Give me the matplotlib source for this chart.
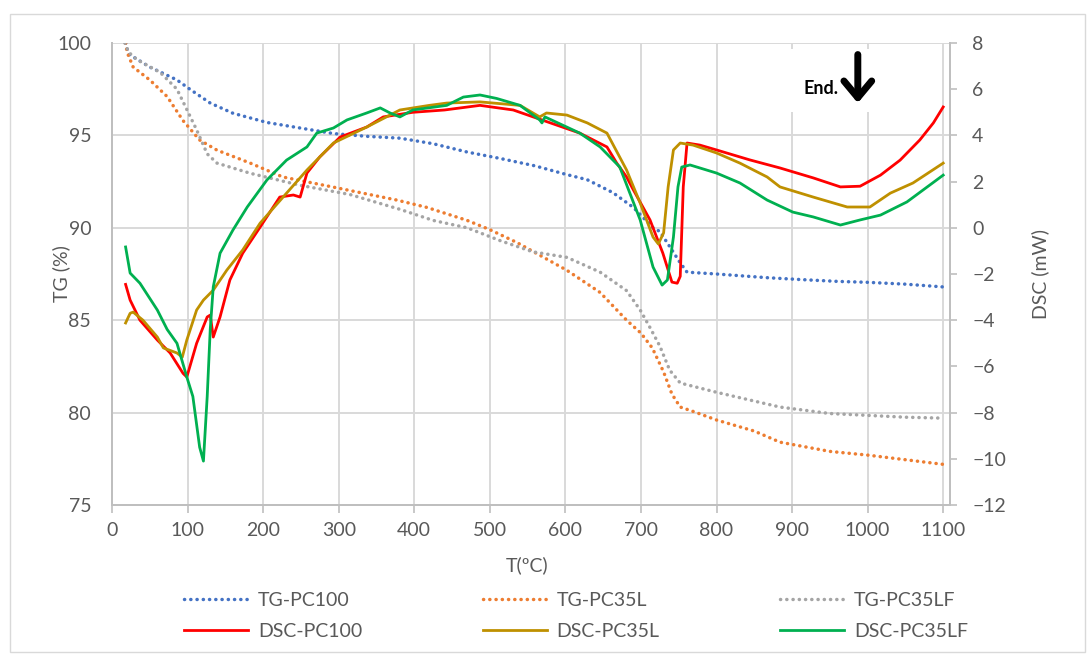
import matplotlib
matplotlib.use("Agg")
import matplotlib.pyplot as plt
from matplotlib.patches import Rectangle

plt.rcParams['font.family'] = ['Lato', 'DejaVu Sans']

# ---------------- data ----------------
t_tg100 = [18, 22, 30, 50, 86, 103, 130, 160, 205, 249, 293, 337, 381, 425, 470, 514, 560, 600, 629, 663,
           690, 716, 725, 741, 752, 761, 800, 867, 911, 960, 1000, 1050, 1100]
tg_pc100 = [100, 99.4, 99.2, 98.7, 98.0, 97.5, 96.75, 96.2, 95.7, 95.4, 95.1, 94.95, 94.85, 94.55, 94.1, 93.75,
            93.35, 92.9, 92.6, 91.9, 91.1, 90.0, 89.8, 88.8, 88.1, 87.6, 87.5, 87.3, 87.2, 87.1, 87.05, 86.95, 86.8]

t_tg35l = [18, 20, 28, 50, 73, 94, 116, 139, 183, 226, 293, 377, 417, 470, 500, 536, 602, 646, 681, 700,
           715, 730, 741, 752, 770, 800, 850, 884, 950, 1000, 1050, 1100]
tg_pc35l = [100, 99.5, 98.7, 98.0, 97.1, 95.8, 94.75, 94.2, 93.5, 92.75, 92.2, 91.5, 91.1, 90.4, 89.9, 89.2,
            87.7, 86.5, 85.0, 84.3, 83.5, 82.2, 81.0, 80.3, 80.05, 79.6, 79.0, 78.4, 77.9, 77.7, 77.45, 77.2]

t_tg35lf = [17, 22, 33, 64, 86, 99, 112, 126, 139, 183, 249, 315, 381, 425, 470, 514, 557, 602, 646, 681,
            699, 712, 725, 738, 752, 800, 884, 950, 1000, 1050, 1100]
tg_pc35lf = [100, 99.5, 99.1, 98.4, 97.5, 96.4, 95.3, 94.0, 93.5, 92.95, 92.3, 91.8, 91.0, 90.4, 90.0, 89.3,
             88.7, 88.4, 87.6, 86.6, 85.55, 84.6, 83.6, 82.3, 81.6, 81.1, 80.3, 79.95, 79.85, 79.75, 79.7]

t_dsc100 = [18, 24, 37, 60, 77, 94, 99, 112, 126, 130, 134, 143, 156, 173, 196, 222, 240, 249, 258, 275,
            302, 337, 359, 398, 440, 487, 531, 575, 619, 655, 668, 681, 690, 712, 729, 741, 748, 752, 756, 761,
            778, 800, 844, 884, 928, 964, 990, 1017, 1043, 1069, 1087, 1100]
dsc_pc100 = [-2.45, -3.13, -4.0, -4.86, -5.42, -6.3, -6.46, -5.0, -3.86, -3.78, -4.73, -3.86, -2.26, -1.1, 0.03,
             1.33, 1.42, 1.33, 2.37, 3.07, 3.93, 4.36, 4.8, 5.0, 5.1, 5.3, 5.1, 4.6, 4.1, 3.5, 2.8, 2.2, 1.64,
             0.34, -1.1, -2.35, -2.4, -2.1, 1.77, 3.67, 3.58, 3.37, 2.94, 2.59, 2.16, 1.77, 1.8, 2.28, 2.93,
             3.8, 4.54, 5.23]

t_dsc35l = [18, 24, 28, 41, 60, 68, 86, 93, 99, 112, 121, 134, 152, 173, 196, 231, 258, 293, 337, 381, 420,
            443, 487, 540, 566, 575, 602, 629, 655, 681, 699, 716, 723, 730, 736, 743, 752, 769, 800, 831, 867,
            884, 928, 973, 1003, 1030, 1060, 1100]
dsc_pc35l = [-4.12, -3.7, -3.65, -4.0, -4.73, -5.2, -5.42, -5.6, -4.86, -3.56, -3.13, -2.7, -1.83, -0.96, 0.2,
             1.5, 2.5, 3.67, 4.36, 5.1, 5.3, 5.4, 5.45, 5.3, 4.8, 4.97, 4.88, 4.54, 4.1, 2.5, 1.07, -0.4, -0.7,
             -0.22, 1.77, 3.37, 3.67, 3.58, 3.24, 2.8, 2.2, 1.77, 1.33, 0.9, 0.9, 1.5, 1.94, 2.8]

t_dsc35lf = [18, 24, 37, 60, 73, 86, 99, 107, 116, 121, 126, 130, 134, 143, 160, 179, 205, 231, 258, 271,
             293, 311, 337, 355, 368, 381, 398, 443, 465, 487, 509, 540, 566, 569, 573, 619, 646, 672, 699, 716,
             728, 735, 743, 749, 754, 765, 800, 831, 867, 901, 928, 964, 990, 1017, 1052, 1100]
dsc_pc35lf = [-0.83, -1.96, -2.4, -3.56, -4.4, -5.0, -6.46, -7.3, -9.5, -10.1, -7.3, -4.4, -2.56, -1.1, -0.1,
              0.9, 2.07, 2.93, 3.5, 4.1, 4.32, 4.67, 4.97, 5.19, 4.97, 4.8, 5.1, 5.3, 5.66, 5.75, 5.6, 5.3, 4.67,
              4.54, 4.8, 4.1, 3.5, 2.63, 0.34, -1.7, -2.48, -2.26, -0.4, 1.77, 2.63, 2.72, 2.37, 1.94, 1.2, 0.68,
              0.47, 0.12, 0.34, 0.55, 1.12, 2.28]

x_ticks = [0, 100, 200, 300, 400, 500, 600, 700, 800, 900, 1000, 1100]
tg_ticks = [75, 80, 85, 90, 95, 100]
dsc_ticks = [-12, -10, -8, -6, -4, -2, 0, 2, 4, 6, 8]

# ---------------- style ----------------
TXT = '#595959'
GRID = '#D9D9D9'
SPINE = '#BFBFBF'
FS = 14

W, H = 1088, 659
fig = plt.figure(figsize=(W / 100, H / 100), dpi=100)
ax = fig.add_axes([112 / W, 1 - 505 / H, (950 - 112) / W, (505 - 43) / H])
ax2 = ax.twinx()

dot = dict(linestyle=(0, (0.05, 1.75)), dash_capstyle='round', lw=2.5)
l1, = ax.plot(t_tg100, tg_pc100, color='#4472C4', label='TG-PC100', **dot)
l2, = ax.plot(t_tg35l, tg_pc35l, color='#ED7D31', label='TG-PC35L', **dot)
l3, = ax.plot(t_tg35lf, tg_pc35lf, color='#A5A5A5', label='TG-PC35LF', **dot)

l4, = ax2.plot(t_dsc100, dsc_pc100, color='#FF0000', lw=2.0, label='DSC-PC100')
l5, = ax2.plot(t_dsc35l, dsc_pc35l, color='#BF9000', lw=2.0, label='DSC-PC35L')
l6, = ax2.plot(t_dsc35lf, dsc_pc35lf, color='#00B050', lw=2.0, label='DSC-PC35LF')

ax.set_xlim(0, 1109)
ax.set_ylim(75, 100)
ax2.set_ylim(-12, 8)
ax.set_xticks(x_ticks)
ax.set_yticks(tg_ticks)
ax2.set_yticks(dsc_ticks)

ax.grid(True, color=GRID, lw=1.4)
ax.set_axisbelow(True)

for a in (ax, ax2):
    a.spines['top'].set_visible(False)
    for s in ('left', 'right', 'bottom'):
        a.spines[s].set_color(SPINE)
        a.spines[s].set_linewidth(1.4)

ax.tick_params(axis='x', direction='out', length=6, width=1.2, color=SPINE, labelsize=FS, labelcolor=TXT, pad=6)
ax.tick_params(axis='y', length=0, labelsize=FS, labelcolor=TXT, pad=15)
ax2.tick_params(axis='y', direction='out', length=5, width=1.2, color=SPINE, labelsize=FS, labelcolor=TXT, pad=11)

ax.set_xlabel('T(ºC)', fontsize=FS, color=TXT)
ax.set_ylabel('TG (%)', fontsize=FS, color=TXT)
ax2.set_ylabel('DSC (mW)', fontsize=FS, color=TXT)
ax.xaxis.set_label_coords((527 - 112) / 838, (505 - 556) / 462)
ax.yaxis.set_label_coords((70 - 112) / 838, 0.5)
ax2.yaxis.set_label_coords((1031 - 112) / 838, 0.5)

# white text box covering gridlines, "End." label and arrow
ax.add_patch(Rectangle((895, 96.25), 190, 3.4, facecolor='white', edgecolor='none', zorder=1))
ax2.text(938, 6.05, 'End.', fontsize=13, fontweight='bold', color='black', ha='center', va='center')
ax2.annotate('', xy=(987, 5.4), xytext=(987, 7.5),
             arrowprops=dict(arrowstyle='->, head_length=0.6, head_width=0.5', lw=5, color='black',
                             mutation_scale=20, shrinkA=0, shrinkB=0))

handles = [l1, l4, l2, l5, l3, l6]
leg = fig.legend(handles=handles, labels=[h.get_label() for h in handles], ncol=3, loc='center',
                 bbox_to_anchor=(576 / W, 1 - 616 / H), frameon=False, fontsize=FS,
                 handlelength=3.3, handletextpad=0.5, columnspacing=6.2, labelspacing=0.75)
for t in leg.get_texts():
    t.set_color(TXT)

fig.add_artist(Rectangle((10 / W, 7 / H), 1075 / W, 638 / H, transform=fig.transFigure,
                         facecolor='none', edgecolor=GRID, lw=1.0))

fig.savefig('out.png', dpi=100)
